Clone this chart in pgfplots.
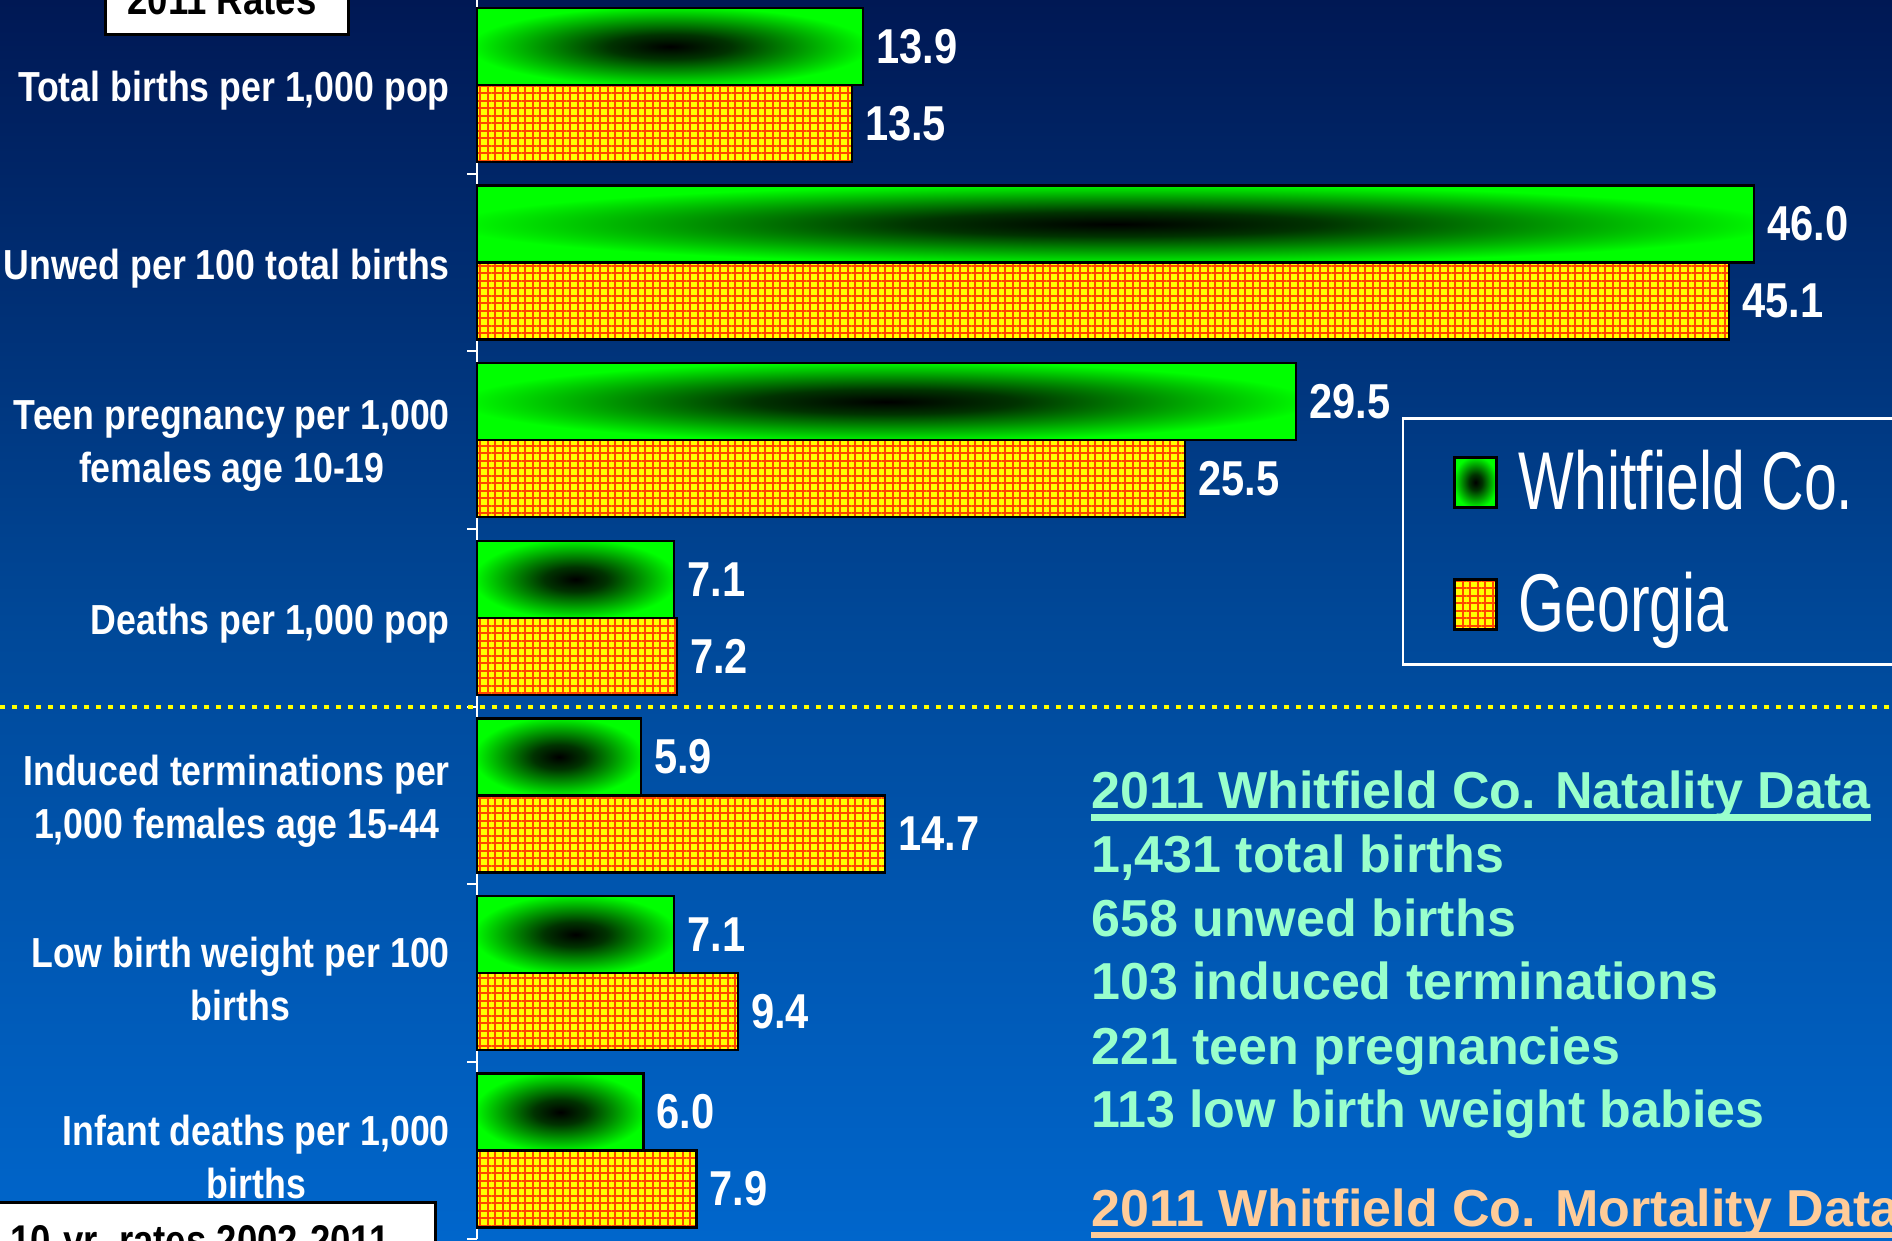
\documentclass[border=0pt]{standalone}
\usepackage{fontspec}
\setmainfont{Liberation Sans}
\newfontfamily\labfont{Liberation Sans}[FakeStretch=0.85]
\newfontfamily\legfont{Liberation Sans}[FakeStretch=0.72]
\newfontfamily\boxfont{Liberation Sans}
\usepackage{pgfplots}
\usepackage{pgfplotstable}
\pgfplotsset{compat=1.18}
\usetikzlibrary{patterns.meta}

\definecolor{bgtop}{RGB}{0,24,84}
\definecolor{bgmid}{RGB}{0,72,152}
\definecolor{bgbot}{RGB}{0,102,204}
\definecolor{wgreen}{RGB}{0,255,0}
\definecolor{gyellow}{RGB}{255,255,0}
\definecolor{gred}{RGB}{255,70,0}
\definecolor{mint}{RGB}{153,255,204}
\definecolor{peach}{RGB}{255,204,153}
\definecolor{dotyellow}{RGB}{255,255,0}

\pgfdeclareradialshading{pyr}{\pgfpointorigin}{color(0bp)=(black); color(8bp)=(black!80!wgreen); color(16bp)=(black!45!wgreen); color(26bp)=(wgreen); color(50bp)=(wgreen)}

\pgfplotsset{
  barleg/.style={legend image code/.code={\draw[##1] (0pt,-27pt) rectangle (42pt,23pt);}},
  wbar/.style={bar shift=-0.2168, draw=black, line width=2.5pt, shade, shading=pyr, barleg},
  gbar/.style={bar shift=0.2168, draw=black, line width=2.5pt,
    preaction={fill=gyellow}, pattern={Hatch[distance=7.5pt, line width=2pt, angle=0]}, pattern color=gred, barleg},
}

\pgfplotstableread{
y val
0 13.5
1 45.1
2 25.5
3 7.2
4 14.7
5 9.4
6 7.9
}\georgia

\begin{document}
\begin{tikzpicture}[x=1pt,y=1pt]
\useasboundingbox (0,0) rectangle (1892,1241);
\begin{scope}
\clip (0,0) rectangle (1892,1241);
\shade[top color=bgtop, bottom color=bgbot, middle color=bgmid] (0,0) rectangle (1892,1241);

\begin{axis}[
  at={(477pt,1.6pt)}, anchor=south west,
  scale only axis, width=1415.8pt, height=1243.2pt,
  xmin=0, xmax=51, ymin=-0.5, ymax=6.5, y dir=reverse,
  xbar, bar width=0.4336,
  axis x line=none, axis y line*=left,
  y axis line style={white, line width=2pt, -},
  ytick={0,...,6},
  yticklabels={{Total births per 1,000 pop},{Unwed per 100 total births},{Teen pregnancy per 1,000\\females age 10-19},{Deaths per 1,000 pop},{Induced terminations per\\1,000 females age 15-44},{Low birth weight per 100\\births},{Infant deaths per 1,000\\births}},
  minor ytick={-0.5,0.5,...,6.5},
  major tick length=0pt, minor tick length=10pt, tick align=outside,
  tick style={white, line width=2pt},
  yticklabel style={align=center, anchor=east, inner sep=0pt, xshift=-27pt, yshift=-6pt, text=white,
    font=\labfont\bfseries\fontsize{42}{53}\selectfont},
  clip=false,
  nodes near coords={\pgfmathprintnumber[fixed,fixed zerofill,precision=1,assume math mode=true]{\pgfplotspointmeta}},
  every node near coord/.append style={anchor=west, inner sep=0pt, xshift=12pt, text=white,
    font=\labfont\bfseries\fontsize{49}{58}\selectfont},
  legend style={at={(0.6533,0.6615)}, anchor=north west, draw=white, line width=2.5pt, fill=none,
    text=white, font=\legfont\fontsize{82}{90}\selectfont,
    inner xsep=50pt, inner ysep=33pt, row sep=64pt, column sep=21pt,
    nodes={inner sep=0pt, text height=58pt, text depth=0pt}},
  legend cell align=left,
]
% Whitfield Co. (one plot per bar so that each bar gets its own shading)
\addplot[wbar] coordinates {(13.9,0)};
\addlegendentry{Whitfield Co.\hspace*{300pt}}
\addplot[wbar, forget plot] coordinates {(46.0,1)};
\addplot[wbar, forget plot] coordinates {(29.5,2)};
\addplot[wbar, forget plot] coordinates {(7.1,3)};
\addplot[wbar, forget plot] coordinates {(5.9,4)};
\addplot[wbar, forget plot] coordinates {(7.1,5)};
\addplot[wbar, forget plot] coordinates {(6.0,6)};
% Georgia
\addplot[gbar] table[x=val, y=y] {\georgia};
\addlegendentry{Georgia}
\end{axis}

% dotted separator
\draw[dotyellow, line width=4pt, dash pattern=on 5pt off 7pt] (0,533.5) -- (1892,533.5);

% boxes
\draw[black, line width=3pt, fill=white] (105,1206) rectangle (348,1300);
\node[anchor=base, inner sep=0pt, font=\labfont\bfseries\fontsize{43}{50}\selectfont] at (222,1226) {2011 Rates};
\draw[black, line width=3pt, fill=white] (-20,-60) rectangle (435,38);
\node[anchor=base west, inner sep=0pt, font=\labfont\bfseries\fontsize{43}{50}\selectfont] at (10,-15) {10-yr. rates 2002-2011};

% right text
\begin{scope}[every node/.style={anchor=base west, inner sep=0pt, font=\boxfont\bfseries\fontsize{52}{64}\selectfont}]
\node[text=mint] (t1) at (1091,432) {2011 Whitfield Co. Natality Data};
\draw[mint, line width=7pt] ([yshift=-8.5pt]t1.base west) -- ([yshift=-8.5pt]t1.base east);
\node[text=mint] at (1091,368) {1,431 total births};
\node[text=mint] at (1091,304) {658 unwed births};
\node[text=mint] at (1091,241) {103 induced terminations};
\node[text=mint] at (1091,176) {221 teen pregnancies};
\node[text=mint] at (1091,113) {113 low birth weight babies};
\node[text=peach] (t2) at (1091,14) {2011 Whitfield Co. Mortality Data};
\draw[peach, line width=6pt] ([yshift=-8.5pt]t2.base west) -- ([yshift=-8.5pt]t2.base east);
\end{scope}
\end{scope}
\end{tikzpicture}
\end{document}
